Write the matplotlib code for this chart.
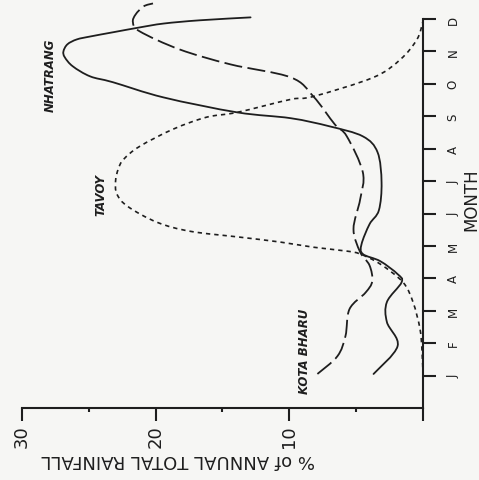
#!/usr/bin/env python3
"""
Monthly share of annual rainfall at three stations (figure drawn on its side)
"""

import matplotlib
matplotlib.use('Agg')
import matplotlib.pyplot as plt
import numpy as np
from matplotlib.path import Path
from matplotlib.patches import PathPatch
from matplotlib.ticker import FixedLocator

plt.rcParams['font.family'] = ['DejaVu Sans']

# Month positions (J=1 ... D=12) and % of annual total rainfall
months = ['J', 'F', 'M', 'A', 'M', 'J', 'J', 'A', 'S', 'O', 'N', 'D']

nhatrang_month = [1.05, 1.91, 2.65, 3.27, 3.88, 4.13, 4.53, 4.75, 5.05, 5.67, 6.1,
                  6.96, 7.89, 8.38, 8.69, 8.94, 9.12, 9.58, 10.05, 10.23, 10.54,
                  10.82, 11.0, 11.22, 11.37, 11.46, 11.59, 11.74, 11.86, 11.96, 12.05]
nhatrang_pct = [3.7, 1.9, 2.7, 2.7, 1.6, 1.9, 3.2, 4.5, 4.6, 4.0, 3.3,
                3.1, 3.4, 4.5, 7.0, 9.9, 13.9, 19.4, 23.2, 24.9, 26.2,
                26.8, 26.9, 26.6, 25.9, 24.9, 23.2, 21.2, 19.4, 16.7, 12.9]

tavoy_month = [1.0, 1.73, 2.43, 3.27, 3.88, 4.44, 4.75, 4.84, 4.96, 5.12, 5.27,
               5.45, 5.73, 6.22, 6.6, 7.0, 7.37, 7.67, 8.07, 8.6, 8.97, 9.12,
               9.52, 9.61, 10.2, 10.75, 11.37, 11.93]
tavoy_pct = [0.0, 0.07, 0.22, 0.75, 1.5, 3.2, 4.7, 5.7, 8.2, 10.7, 13.7,
             17.4, 19.9, 22.1, 22.9, 23.0, 22.8, 22.4, 21.2, 18.7, 16.2, 13.9,
             9.9, 8.2, 3.7, 1.7, 0.45, 0.0]

kota_month = [1.05, 1.6, 2.22, 3.05, 3.56, 3.91, 4.4, 4.81, 5.52, 6.44, 7.27,
              8.38, 8.75, 9.61, 10.2, 10.6, 11.06, 11.62, 11.9, 12.14, 12.39, 12.48]
kota_pct = [7.9, 6.4, 5.8, 5.5, 4.3, 3.8, 4.0, 4.7, 5.2, 4.7, 4.5,
            5.7, 6.6, 8.2, 9.9, 14.4, 18.2, 21.2, 21.7, 21.5, 20.9, 20.2]


def smooth_path(xs, ys):
    """Bezier path through every point (Catmull-Rom handles)."""
    p = np.column_stack([xs, ys]).astype(float)
    ext = np.vstack([p[0], p, p[-1]])
    verts = [p[0]]
    codes = [Path.MOVETO]
    for i in range(1, len(ext) - 2):
        c1 = ext[i] + (ext[i + 1] - ext[i - 1]) / 6.0
        c2 = ext[i + 1] - (ext[i + 2] - ext[i]) / 6.0
        verts += [c1, c2, ext[i + 1]]
        codes += [Path.CURVE4] * 3
    return Path(verts, codes)


W, H = 479, 481
fig = plt.figure(figsize=(W / 100, H / 100), dpi=100)
fig.patch.set_facecolor('#f6f6f4')

# value axis runs right-to-left along the bottom, months run up the right side
ax = fig.add_axes([22 / W, 72 / H, 401 / W, 389 / H])
ax.set_facecolor('none')
ax.set_xlim(30, 0)
ax.set_ylim(0, 12)

ink = '#1e1e1e'
ax.add_patch(PathPatch(smooth_path(nhatrang_pct, nhatrang_month), fill=False,
                       edgecolor=ink, lw=1.3, clip_on=False, capstyle='round'))
ax.add_patch(PathPatch(smooth_path(tavoy_pct, tavoy_month), fill=False,
                       edgecolor=ink, lw=1.2, clip_on=False,
                       linestyle=(0, (2.6, 2.4))))
ax.add_patch(PathPatch(smooth_path(kota_pct, kota_month), fill=False,
                       edgecolor=ink, lw=1.3, clip_on=False,
                       linestyle=(0, (10, 3))))

for s in ['top', 'left']:
    ax.spines[s].set_visible(False)
ax.spines['bottom'].set_linewidth(1.5)
ax.spines['right'].set_linewidth(1.5)
ax.spines['bottom'].set_color(ink)
ax.spines['right'].set_color(ink)

# bottom: % scale
ax.xaxis.set_major_locator(FixedLocator([30, 20, 10, 0]))
ax.xaxis.set_minor_locator(FixedLocator([25, 15, 5]))
ax.set_xticklabels(['30', '20', '10', ''], rotation=90, fontsize=13, color=ink)
ax.tick_params(axis='x', which='major', direction='out', length=9, width=1.5,
               color=ink, pad=3)
ax.tick_params(axis='x', which='minor', direction='out', length=3, width=1.5,
               color=ink)

# right: months
ax.yaxis.tick_right()
ax.set_yticks(range(1, 13))
ax.set_yticklabels(months, rotation=90, fontsize=8.5, color=ink, va='center')
ax.tick_params(axis='y', which='major', direction='out', length=9, width=1.5,
               color=ink, pad=8)

fig.text(178 / W, 1 - 460 / H, '% of ANNUAL TOTAL RAINFALL', rotation=180,
         ha='center', va='center', fontsize=13, color=ink)
fig.text(471 / W, 1 - 200 / H, 'MONTH', rotation=90, ha='center', va='center',
         fontsize=12, color=ink)

# station names
lab = dict(rotation=90, ha='center', va='center', fontsize=8.5,
           fontweight='bold', style='italic', color=ink)
fig.text(50 / W, 1 - 75 / H, 'NHATRANG', **lab)
fig.text(101 / W, 1 - 195 / H, 'TAVOY', **lab)
fig.text(305 / W, 1 - 351 / H, 'KOTA BHARU', **lab)

fig.savefig('out.png', dpi=100, facecolor=fig.get_facecolor())
